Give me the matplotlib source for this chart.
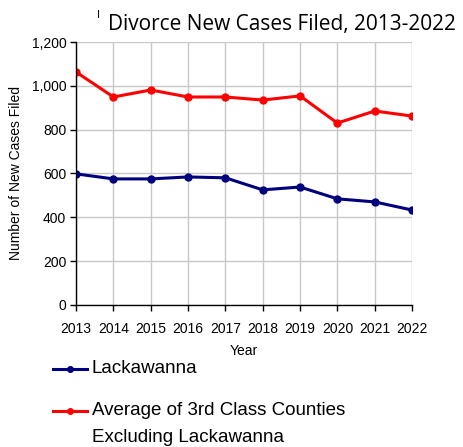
#!/usr/bin/env python3
"""Divorce new cases filed, 2013-2022."""

import matplotlib
matplotlib.use("Agg")
import matplotlib.pyplot as plt
from matplotlib.lines import Line2D
from matplotlib.ticker import FuncFormatter

years = [2013, 2014, 2015, 2016, 2017, 2018, 2019, 2020, 2021, 2022]
lackawanna = [598, 575, 575, 584, 580, 525, 538, 484, 470, 433]
third_class_avg = [1063, 949, 981, 949, 949, 935, 954, 830, 885, 862]

label_lack = "Lackawanna"
label_avg = "Average of 3rd Class Counties\nExcluding Lackawanna"
blue = "#00007f"
red = "#ff0000"

plt.rcParams["font.family"] = ["Liberation Sans", "DejaVu Sans"]

fig = plt.figure(figsize=(4.64, 4.47), dpi=100)
ax = fig.add_axes([0.164, 0.318, 0.724, 0.588])

ax.plot(years, lackawanna, color=blue, linewidth=2.2, marker="o", markersize=5)
ax.plot(years, third_class_avg, color=red, linewidth=2.2, marker="o", markersize=5)

ax.set_xlim(2013, 2022)
ax.set_ylim(0, 1200)
ax.set_xticks(years)
ax.set_yticks(range(0, 1201, 200))
ax.yaxis.set_major_formatter(FuncFormatter(lambda v, p: f"{int(v):,}"))
ax.grid(True, color="#c8c8c8", linewidth=1.0)
ax.set_axisbelow(True)
for side in ("top", "right"):
    ax.spines[side].set_visible(False)
for side in ("left", "bottom"):
    ax.spines[side].set_color("black")
    ax.spines[side].set_linewidth(1.0)
ax.tick_params(axis="both", direction="out", length=4, width=1, labelsize=10, pad=3)
ax.tick_params(axis="x", pad=8)

ax.set_xlabel("Year", fontsize=10, labelpad=6)
ax.set_ylabel("Number of New Cases Filed", fontsize=10, labelpad=6)

fig.text(0.608, 0.945, "Divorce New Cases Filed, 2013-2022", ha="center", va="center",
         fontsize=15, family=["Open Sans", "DejaVu Sans"])
fig.text(0.213, 0.966, "I", ha="center", va="center", fontsize=8)

# legend drawn by hand: the red key sits on the first line of its label
for color, y in ((blue, 0.1745), (red, 0.0805)):
    fig.add_artist(Line2D([0.114, 0.1875], [y, y], transform=fig.transFigure,
                          color=color, linewidth=2.2))
    fig.add_artist(Line2D([0.151], [y], transform=fig.transFigure, color=color,
                          marker="o", markersize=4))
fig.text(0.198, 0.1745, label_lack, ha="left", va="center", fontsize=13.5)
fig.text(0.198, 0.0515, label_avg, ha="left", va="center", fontsize=13.5,
         linespacing=1.7)

fig.savefig("out.png", dpi=100)
